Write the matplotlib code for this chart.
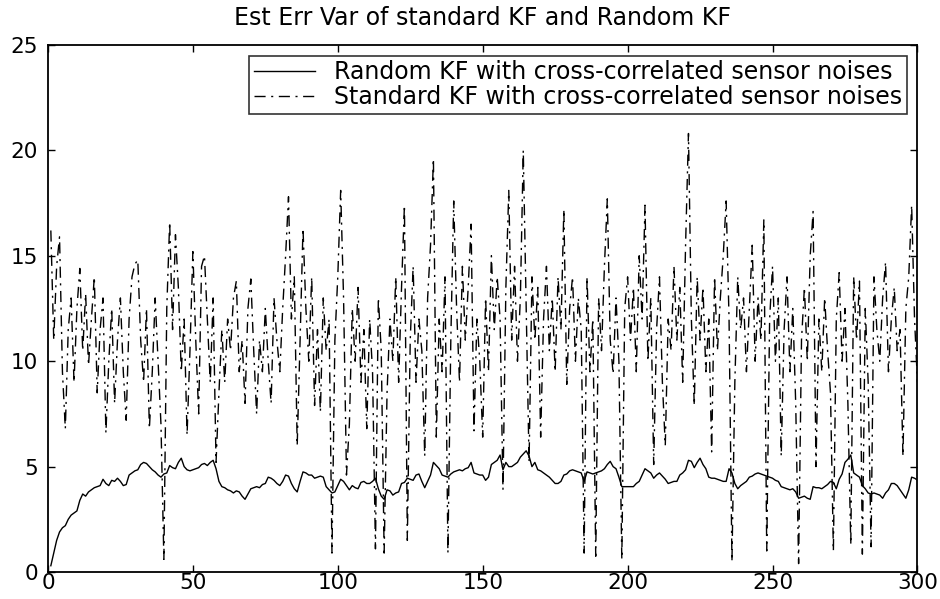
import numpy as np
import matplotlib
matplotlib.use("Agg")
import matplotlib.pyplot as plt

# sample index 1..300
steps = np.arange(1, 301)

# Random KF (solid line)
random_kf = [
    0.3, 0.9, 1.5, 1.9, 2.1, 2.2, 2.5, 2.7, 2.8, 2.9,
    3.4, 3.7, 3.6, 3.8, 3.9, 4.0, 4.05, 4.1, 4.4, 4.2,
    4.1, 4.35, 4.3, 4.45, 4.3, 4.1, 4.15, 4.6, 4.7, 4.8,
    4.85, 5.1, 5.2, 5.15, 5.0, 4.85, 4.75, 4.6, 4.5, 4.65,
    4.7, 5.05, 4.95, 4.9, 5.2, 5.4, 5.0, 4.85, 4.8, 4.85,
    4.9, 4.95, 5.1, 5.15, 5.05, 5.2, 5.3, 4.9, 4.3, 4.05,
    4.0, 3.9, 3.85, 3.75, 3.85, 3.8, 3.6, 3.45, 3.7, 3.95,
    4.0, 4.05, 4.0, 4.15, 4.2, 4.5, 4.45, 4.35, 4.2, 4.1,
    4.3, 4.6, 4.55, 4.2, 3.95, 3.8, 4.3, 4.75, 4.7, 4.6,
    4.6, 4.45, 4.5, 4.55, 4.5, 4.05, 3.9, 3.75, 3.8, 4.1,
    4.4, 4.3, 4.1, 3.9, 4.1, 4.0, 3.95, 4.25, 4.3, 4.2,
    4.2, 4.3, 4.45, 3.95, 3.6, 3.45, 3.9, 3.85, 3.65, 3.75,
    3.8, 4.2, 4.25, 4.45, 4.4, 4.35, 4.6, 4.65, 4.3, 4.0,
    4.3, 4.6, 5.2, 5.05, 4.9, 4.6, 4.55, 4.5, 4.65, 4.75,
    4.8, 4.85, 4.8, 4.9, 4.95, 5.2, 4.7, 4.65, 4.6, 4.6,
    4.35, 4.5, 5.1, 5.2, 5.3, 5.55, 4.85, 5.2, 5.0, 5.0,
    5.1, 5.2, 5.45, 5.6, 5.75, 5.5, 5.0, 5.2, 4.85, 4.8,
    4.7, 4.6, 4.5, 4.35, 4.2, 4.2, 4.3, 4.6, 4.65, 4.8,
    4.85, 4.8, 4.75, 4.7, 4.3, 4.75, 4.7, 4.65, 4.7, 4.75,
    4.8, 4.9, 5.1, 5.25, 5.0, 4.9, 4.5, 4.05, 4.05, 4.05,
    4.05, 4.05, 4.2, 4.3, 4.6, 4.9, 4.8, 4.7, 4.45, 4.6,
    4.7, 4.55, 4.4, 4.2, 4.25, 4.3, 4.3, 4.6, 4.7, 4.85,
    5.3, 5.25, 4.95, 5.2, 5.4, 5.1, 4.9, 4.5, 4.45, 4.45,
    4.4, 4.35, 4.3, 4.3, 4.9, 4.7, 4.2, 3.95, 4.1, 4.2,
    4.3, 4.5, 4.55, 4.65, 4.7, 4.65, 4.6, 4.55, 4.5, 4.45,
    4.35, 4.3, 4.05, 4.0, 3.95, 3.9, 3.95, 3.8, 3.5, 3.55,
    3.6, 3.5, 3.45, 4.05, 4.0, 4.0, 3.95, 4.05, 4.15, 4.3,
    4.25, 3.95, 4.4, 4.65, 5.2, 5.35, 5.55, 4.7, 4.6, 4.5,
    4.1, 3.95, 3.75, 3.7, 3.75, 3.7, 3.65, 3.5, 3.75, 3.9,
    4.2, 4.2, 4.1, 3.9, 3.7, 3.5, 3.9, 4.5, 4.45, 4.36,
]

# Standard KF (dash-dot line)
standard_kf = [
    16.2, 11.0, 14.5, 15.9, 9.5, 6.8, 11.5, 13.0, 9.0, 12.5,
    14.4, 10.5, 13.2, 9.8, 12.0, 14.0, 8.5, 11.5, 13.0, 6.6,
    10.0, 12.5, 8.0, 11.0, 13.0, 9.5, 7.2, 12.0, 14.0, 14.6,
    14.8, 11.0, 9.0, 12.5, 6.8, 9.5, 13.0, 10.0, 7.0, 0.6,
    12.5, 16.6, 11.5, 16.0, 13.5, 9.5, 12.0, 6.5, 10.5, 15.2,
    11.0, 7.5, 14.5, 15.0, 12.0, 9.0, 13.0, 5.2, 8.5, 11.5,
    9.0, 12.0, 10.5, 13.0, 13.8, 9.5, 11.0, 8.0, 12.5, 13.9,
    10.5, 7.5, 11.0, 9.5, 12.5, 10.0, 8.0, 13.0, 11.0, 9.5,
    12.5, 15.0, 17.8, 12.0, 14.0, 6.0, 11.0, 16.3, 12.5, 10.0,
    14.0, 7.9, 11.5, 7.6, 13.0, 10.5, 12.0, 0.9, 11.0, 14.0,
    18.1, 13.0, 4.6, 7.0, 12.5, 10.0, 13.5, 9.0, 11.5, 6.8,
    12.0, 9.5, 1.1, 13.0, 10.5, 0.9, 8.5, 12.0, 10.0, 14.0,
    9.0, 13.5, 17.4, 1.5, 11.0, 14.5, 9.0, 12.0, 10.5, 5.5,
    13.0, 15.5, 19.6, 6.4, 12.0, 9.5, 14.0, 0.9, 11.0, 17.6,
    12.5, 9.0, 14.5, 11.0, 13.5, 16.5, 6.7, 12.0, 10.0, 6.4,
    13.0, 9.5, 15.0, 11.5, 14.0, 12.0, 3.9, 13.5, 18.1, 11.0,
    14.5, 10.0, 13.0, 20.0, 12.5, 5.2, 14.0, 11.0, 13.5, 6.4,
    12.0, 14.5, 10.5, 13.0, 9.5, 14.0, 11.5, 17.2, 8.9, 12.5,
    14.0, 10.0, 13.0, 11.5, 0.9, 14.0, 9.5, 12.0, 0.75, 13.0,
    10.5, 14.5, 17.7, 11.0, 9.4, 13.0, 10.0, 0.6, 12.5, 14.0,
    11.0, 13.5, 9.5, 15.0, 12.0, 17.4, 10.0, 13.0, 5.1, 11.5,
    14.0, 9.0, 6.0, 12.0, 10.5, 14.5, 11.0, 13.5, 9.0, 15.5,
    20.8, 12.0, 7.9, 14.0, 11.0, 13.5, 9.5, 12.0, 5.7, 14.0,
    10.5, 13.0, 15.0, 17.6, 12.0, 0.5, 9.0, 14.0, 11.5, 13.0,
    9.5, 12.5, 15.5, 10.0, 13.0, 11.0, 16.7, 1.0, 12.0, 14.5,
    10.0, 13.0, 5.5, 11.5, 14.0, 9.5, 12.5, 8.0, 0.4, 11.0,
    13.5, 10.0, 15.0, 17.1, 5.0, 12.0, 9.5, 13.0, 10.5, 8.5,
    1.0, 12.0, 14.2, 10.0, 12.5, 8.0, 1.3, 14.0, 11.0, 13.8,
    0.85, 12.5, 9.0, 1.2, 14.0, 11.5, 10.0, 13.0, 14.7, 9.5,
    12.0, 13.5, 10.5, 11.5, 5.5, 12.5, 14.0, 17.4, 12.0, 9.0,
]

x_ticks = [0, 50, 100, 150, 200, 250, 300]
y_ticks = [0, 5, 10, 15, 20, 25]

plt.rcParams['font.family'] = ['DejaVu Sans']

fig = plt.figure(figsize=(9.4, 5.99), dpi=100)
ax = fig.add_axes([0.051, 0.045, 0.925, 0.880])

ax.plot(steps, random_kf, color='black', lw=1.0,
        label='Random KF with cross-correlated sensor noises')
ax.plot(steps, standard_kf, color='black', lw=1.0, dashes=(8, 4, 1.5, 4),
        label='Standard KF with cross-correlated sensor noises')

ax.set_xlim(0, 300)
ax.set_ylim(0, 25)
ax.set_xticks(x_ticks)
ax.set_yticks(y_ticks)
ax.tick_params(direction='in', length=5, width=1, top=True, right=True,
               labelsize=15.5)
ax.tick_params(axis='x', pad=1)
ax.tick_params(axis='y', pad=7)
for s in ax.spines.values():
    s.set_linewidth(1.3)

ax.set_title('Est Err Var of standard KF and Random KF', fontsize=17, pad=14)

leg = ax.legend(loc='upper right', fontsize=17, frameon=True, fancybox=False,
                borderaxespad=0.45, handlelength=2.6, handletextpad=0.8,
                borderpad=0.2, labelspacing=0.05)
leg.get_frame().set_edgecolor('black')
leg.get_frame().set_linewidth(1.2)

fig.savefig('out.png', dpi=100)
